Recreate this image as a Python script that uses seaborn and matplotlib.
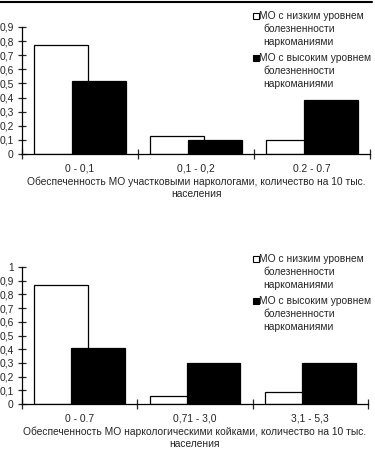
import matplotlib
matplotlib.use('Agg')
import matplotlib.pyplot as plt
import seaborn as sns
import pandas as pd
from matplotlib.patches import Rectangle
from matplotlib.lines import Line2D
from matplotlib.ticker import FuncFormatter

# Данные
series = ['МО с низким уровнем болезненности наркоманиями',
          'МО с высоким уровнем болезненности наркоманиями']

cats1 = ['0 - 0,1', '0,1 - 0,2', '0.2 - 0.7']
low1 = [0.77, 0.13, 0.10]
high1 = [0.52, 0.10, 0.38]

cats2 = ['0 - 0.7', '0,71 - 3,0', '3,1 - 5,3']
low2 = [0.87, 0.06, 0.09]
high2 = [0.41, 0.30, 0.30]

xlabel1 = 'Обеспеченность МО участковыми наркологами, количество на 10 тыс.\nнаселения'
xlabel2 = 'Обеспеченность МО наркологическими койками, количество на 10 тыс.\nнаселения'

W, H = 375, 449
sns.set_style('white')
plt.rcParams['font.family'] = ['Liberation Sans', 'DejaVu Sans']
plt.rcParams['font.size'] = 7.4

fig = plt.figure(figsize=(W / 100, H / 100), dpi=100)


def fx(x):
    return x / W


def fy(y):
    return 1 - y / H


def grafico(rect, cats, low, high, ymax, xlabel, leg_top):
    ax = fig.add_axes(rect)
    df = pd.DataFrame({
        'cat': cats * 2,
        'serie': [series[0]] * 3 + [series[1]] * 3,
        'val': low + high,
    })
    sns.barplot(data=df, x='cat', y='val', hue='serie', order=cats,
                hue_order=series, palette=['white', 'black'], width=0.64,
                edgecolor='black', linewidth=0.9, saturation=1,
                legend=False, ax=ax)
    # barras sobrepostas
    for p in ax.patches:
        c = p.get_x() + p.get_width() / 2
        p.set_width(0.465)
        p.set_x(c - 0.465 / 2)
    ax.set_xlim(-0.5, 2.5)
    ax.set_ylim(0, ymax)
    ax.set_yticks([i / 10 for i in range(int(round(ymax * 10)) + 1)])
    ax.yaxis.set_major_formatter(FuncFormatter(
        lambda v, _: '0' if v == 0 else ('1' if v == 1 else f'{v:.1f}'.replace('.', ','))))
    ax.set_xticks([-0.5, 0.5, 1.5, 2.5], minor=True)
    ax.tick_params(axis='x', which='major', length=0, pad=7)
    ax.tick_params(axis='x', which='minor', length=7, direction='inout', width=0.9, bottom=True)
    ax.tick_params(axis='y', length=6, direction='inout', width=0.9, pad=3, left=True)
    ax.set_ylabel('')
    ax.set_xlabel(xlabel, labelpad=2, linespacing=1.3)
    sns.despine(ax=ax)
    for s in ['left', 'bottom']:
        ax.spines[s].set_linewidth(0.9)
        ax.spines[s].set_color('black')

    # legenda
    cores = ['white', 'black']
    y0 = leg_top
    for i, nome in enumerate(series):
        yy = y0 + i * 42
        fig.add_artist(Rectangle((fx(253), fy(yy + 3)), 6 / W, 6 / H,
                                 facecolor=cores[i], edgecolor='black',
                                 linewidth=0.8, transform=fig.transFigure))
        fig.text(fx(259), fy(yy), 'МО с ' + ('низким' if i == 0 else 'высоким') + ' уровнем',
                 va='center', ha='left')
        fig.text(fx(263), fy(yy + 13), 'болезненности', va='center', ha='left')
        fig.text(fx(263), fy(yy + 26), 'наркоманиями', va='center', ha='left')
    return ax


grafico([fx(22), fy(154), 348 / W, 127 / H], cats1, low1, high1, 0.9, xlabel1, 16)
grafico([fx(22), fy(404), 346 / W, 137 / H], cats2, low2, high2, 1.0, xlabel2, 259)

fig.add_artist(Line2D([0, fx(372)], [fy(1.5), fy(1.5)], color='black',
                      linewidth=1.5, transform=fig.transFigure))

plt.savefig('out.png', dpi=100)
plt.close()
